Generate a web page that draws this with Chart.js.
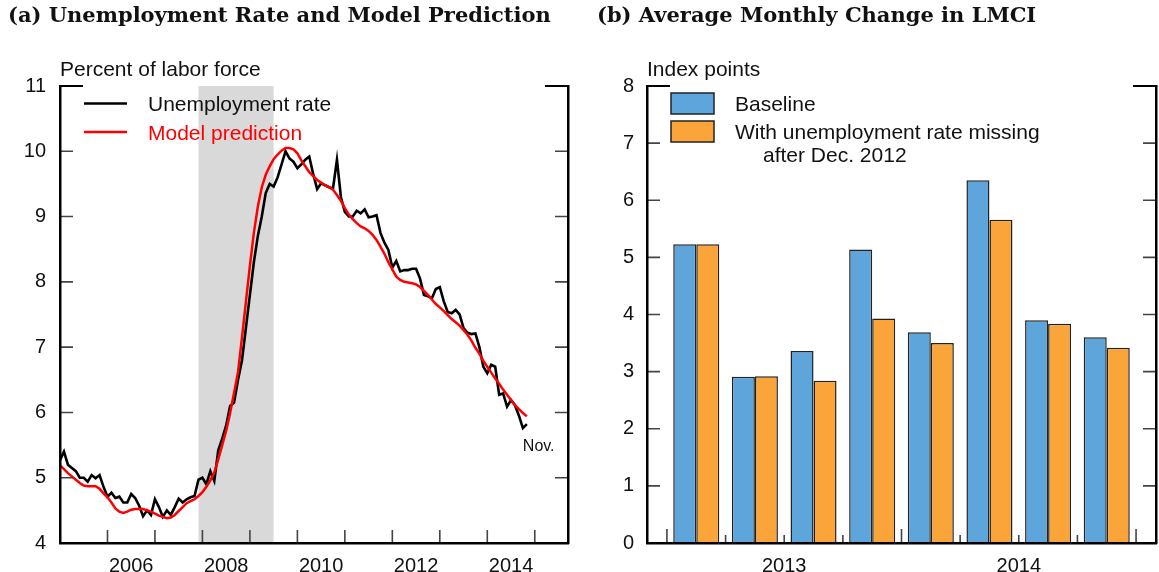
<!DOCTYPE html>
<html><head><meta charset="utf-8">
<script src="https://cdn.jsdelivr.net/npm/chart.js@4/dist/chart.umd.min.js"></script>
<style>
html,body{margin:0;padding:0;background:#fff;width:1159px;height:572px;overflow:hidden}
.title{position:absolute;top:1px;font-family:"DejaVu Serif",serif;font-weight:bold;font-size:21px;color:#111;white-space:nowrap;line-height:28px}
canvas{position:absolute;top:0}
</style></head><body>
<canvas id="c1" width="580" height="572" style="left:0;width:580px;height:572px"></canvas>
<canvas id="c2" width="579" height="572" style="left:580px;width:579px;height:572px"></canvas>
<div class="title" style="left:8px">(a) Unemployment Rate and Model Prediction</div>
<div class="title" style="left:597px">(b) Average Monthly Change in LMCI</div>
<script>
// ---------- Panel (a) data: monthly, Jan 2005 - Nov 2014 ----------
const startYear = 2005;
const unemploymentRate = [
  5.27,5.40,5.20,5.15,5.10,5.00,5.00,4.94,5.04,4.99,5.04,4.86,
  4.71,4.77,4.69,4.71,4.62,4.62,4.75,4.69,4.57,4.41,4.50,4.43,
  4.67,4.55,4.40,4.50,4.43,4.55,4.68,4.62,4.67,4.70,4.72,4.97,
  5.00,4.90,5.10,4.95,5.42,5.60,5.80,6.10,6.15,6.50,6.80,7.30,
  7.80,8.30,8.70,9.00,9.36,9.50,9.46,9.60,9.80,10.00,9.89,9.84,
  9.74,9.80,9.87,9.92,9.65,9.42,9.51,9.48,9.45,9.43,9.87,9.30,
  9.07,9.00,9.00,9.09,9.05,9.11,8.99,9.00,9.02,8.75,8.60,8.49,
  8.22,8.32,8.16,8.18,8.18,8.20,8.20,8.05,7.80,7.78,7.75,7.89,
  7.92,7.70,7.54,7.52,7.57,7.50,7.29,7.22,7.20,7.21,7.00,6.70,
  6.60,6.73,6.70,6.27,6.29,6.09,6.19,6.11,5.95,5.76,5.82
];
const modelPrediction = [
  5.19,5.13,5.07,5.02,4.97,4.92,4.88,4.87,4.87,4.87,4.83,4.76,
  4.70,4.62,4.53,4.48,4.46,4.48,4.51,4.52,4.52,4.52,4.50,4.48,
  4.45,4.42,4.40,4.38,4.39,4.43,4.49,4.55,4.61,4.64,4.67,4.72,
  4.78,4.86,4.96,5.08,5.28,5.50,5.72,5.99,6.30,6.62,7.15,7.70,
  8.25,8.75,9.15,9.45,9.64,9.77,9.88,9.95,10.01,10.05,10.05,10.03,
  9.97,9.86,9.77,9.68,9.62,9.56,9.52,9.48,9.45,9.41,9.33,9.24,
  9.13,9.03,8.96,8.90,8.85,8.82,8.78,8.72,8.64,8.54,8.43,8.30,
  8.19,8.08,8.03,8.00,7.99,7.98,7.96,7.92,7.86,7.80,7.73,7.66,
  7.61,7.55,7.49,7.43,7.38,7.33,7.26,7.19,7.10,6.99,6.90,6.79,
  6.70,6.61,6.52,6.44,6.35,6.27,6.19,6.11,6.05,5.99,5.94
];
const recession = [2007 + 11/12, 2009.5];   // Dec 2007 - Jun 2009
const yearTicks = [2006,2007,2008,2009,2010,2011,2012,2013,2014,2015];
const yearLabels = ['2006','2008','2010','2012','2014'];
const yTicksA = [5,6,7,8,9,10,11];
const lastMonthLabel = 'Nov.';

// ---------- Panel (b) data ----------
const quarters = ['2013 Q1','2013 Q2','2013 Q3','2013 Q4','2014 Q1','2014 Q2','2014 Q3','2014 Q4'];
const baseline = [5.23, 2.91, 3.36, 5.14, 3.69, 6.35, 3.90, 3.60];
const unempMissing = [5.23, 2.92, 2.84, 3.93, 3.50, 5.66, 3.84, 3.42];
const barYears = ['2013','2014'];
const yTicksB = [1,2,3,4,5,6,7,8];

const FONT = '"Liberation Sans", Arial, Helvetica, sans-serif';

const monthX = i => startYear + i / 12;

const inwardTicks = {
  id: 'inwardTicks',
  afterDatasetsDraw(chart, args, o) {
    const {ctx, chartArea: a, scales} = chart;
    const ys = scales.y, xs = scales.x;
    ctx.save();
    ctx.lineCap = 'butt';
    o.yValues.forEach(v => {
      const p = ys.getPixelForValue(v);
      const top = v === ys.max;
      const L = top ? o.topLen : o.len;
      ctx.strokeStyle = top ? '#000' : o.color;
      ctx.lineWidth = top ? 2.2 : o.width;
      ctx.beginPath();
      ctx.moveTo(a.left, p); ctx.lineTo(a.left + L, p);
      ctx.moveTo(a.right, p); ctx.lineTo(a.right - L, p);
      ctx.stroke();
    });
    ctx.strokeStyle = o.color; ctx.lineWidth = o.width;
    ctx.beginPath();
    o.xValues.forEach((v, i) => {
      const p = xs.getPixelForValue(v);
      const L = o.xLens ? o.xLens[i] : o.len;
      ctx.moveTo(p, a.bottom); ctx.lineTo(p, a.bottom - L);
    });
    ctx.stroke();
    ctx.restore();
  }
};

const shading = {
  id: 'shading',
  beforeDatasetsDraw(chart, args, o) {
    if (!o.range) return;
    const {ctx, chartArea: a, scales: {x}} = chart;
    const x0 = x.getPixelForValue(o.range[0]), x1 = x.getPixelForValue(o.range[1]);
    ctx.save();
    ctx.fillStyle = o.color;
    ctx.fillRect(x0, a.top, x1 - x0, a.bottom - a.top);
    ctx.restore();
  }
};

const extras = {
  id: 'extras',
  afterDraw(chart, args, o) {
    const {ctx, chartArea: a} = chart;
    ctx.save();
    ctx.font = '21px ' + FONT;
    ctx.textBaseline = 'alphabetic';
    ctx.textAlign = 'left';
    ctx.fillStyle = '#111';
    ctx.fillText(o.unit, a.left, 76);
    const ds = chart.data.datasets;
    if (o.kind === 'line') {
      const rows = [103.5, 132];
      o.order.forEach((di, k) => {
        const d = ds[di], y = rows[k];
        ctx.strokeStyle = d.borderColor; ctx.lineWidth = 2.5;
        ctx.beginPath(); ctx.moveTo(84, y); ctx.lineTo(127, y); ctx.stroke();
        ctx.fillStyle = d.legendText || '#111';
        ctx.fillText(d.label, 148, y + 7.5);
      });
      // last-month label
      const meta = chart.getDatasetMeta(o.lastDs);
      const pt = meta.data[meta.data.length - 1];
      ctx.font = '16px ' + FONT;
      ctx.fillStyle = '#111';
      ctx.fillText(o.lastLabel, pt.x - 4, pt.y + 27);
    } else {
      const rows = [93, 121];
      ds.forEach((d, k) => {
        const y = rows[k];
        ctx.fillStyle = d.backgroundColor;
        ctx.fillRect(91, y, 43, 21);
        ctx.strokeStyle = '#222'; ctx.lineWidth = 1.5;
        ctx.strokeRect(91, y, 43, 21);
        ctx.fillStyle = '#111';
        const lines = [].concat(d.legendLines || d.label);
        lines.forEach((t, j) => ctx.fillText(t, 155 + (j ? 28 : 0), y + 18 + j * 22.5));
      });
    }
    ctx.restore();
  }
};

Chart.register(inwardTicks, shading, extras);

// ---------- Chart (a) ----------
new Chart(document.getElementById('c1'), {
  type: 'line',
  data: {
    datasets: [
      { label: 'Model prediction', data: modelPrediction.map((v, i) => ({x: monthX(i), y: v})),
        borderColor: '#ff0000', legendText: '#ff0000', borderWidth: 2.5, pointRadius: 0, tension: 0, order: 0,
        xAxisID: 'x', yAxisID: 'y' },
      { label: 'Unemployment rate', data: unemploymentRate.map((v, i) => ({x: monthX(i), y: v})),
        borderColor: '#000000', legendText: '#111', borderWidth: 2.6, pointRadius: 0, tension: 0, order: 1,
        xAxisID: 'x', yAxisID: 'y' }
    ]
  },
  options: {
    responsive: false, animation: false, devicePixelRatio: 1,
    layout: { padding: { top: 86, right: 12, bottom: 0, left: 0 } },
    plugins: {
      legend: { display: false }, tooltip: { enabled: false },
      shading: { range: recession, color: '#d9d9d9' },
      inwardTicks: { yValues: yTicksA, xValues: yearTicks, len: 13, topLen: 23, color: '#444', width: 1.6 },
      extras: { kind: 'line', unit: 'Percent of labor force', order: [1, 0], lastDs: 1, lastLabel: lastMonthLabel }
    },
    scales: {
      x: { type: 'linear', axis: 'x', position: 'bottom', min: 2005, max: 2015.7, offset: false,
           grid: { display: false }, ticks: { display: false },
           border: { display: true, color: '#000', width: 2.5, z: 2 },
           afterFit: s => { s.height = 0; } },
      x2: { type: 'linear', axis: 'x', position: 'bottom', min: 2005, max: 2015.7, offset: false,
            grid: { display: false }, border: { display: false },
            afterBuildTicks: s => { s.ticks = yearLabels.map(l => ({ value: +l + 0.5 })); },
            ticks: { autoSkip: false, maxRotation: 0, padding: 3, color: '#111', font: { size: 20, family: FONT },
                     callback: (v, i) => yearLabels[i] },
            afterFit: s => { s.height = 29; } },
      y: { type: 'linear', position: 'left', min: 4, max: 11,
           grid: { display: false, drawTicks: false },
           border: { display: true, color: '#000', width: 2.5, z: 2 },
           ticks: { stepSize: 1, padding: 14, color: '#111', font: { size: 20, family: FONT } },
           afterFit: s => { s.width = 60; } },
      y2: { type: 'linear', axis: 'y', position: 'right', min: 4, max: 11,
            grid: { display: false }, ticks: { display: false },
            border: { display: true, color: '#000', width: 2.5, z: 2 },
            afterFit: s => { s.width = 0; } }
    }
  }
});

// ---------- Chart (b) ----------
const boundaries = quarters.map((q, i) => i - 0.5).concat([quarters.length - 0.5]);
const boundaryLens = boundaries.map(b => ((b + 0.5) % 4 === 0 ? 14 : 8));
new Chart(document.getElementById('c2'), {
  type: 'bar',
  data: {
    datasets: [
      { label: 'Baseline', data: baseline.map((v, i) => ({x: i, y: v})),
        backgroundColor: '#5DA5DA', borderColor: '#222', borderWidth: 1.5, borderSkipped: 'bottom',
        categoryPercentage: 0.785, barPercentage: 1, xAxisID: 'x', yAxisID: 'y' },
      { label: 'With unemployment rate missing after Dec. 2012',
        legendLines: ['With unemployment rate missing', 'after Dec. 2012'],
        data: unempMissing.map((v, i) => ({x: i, y: v})),
        backgroundColor: '#FAA43A', borderColor: '#222', borderWidth: 1.5, borderSkipped: 'bottom',
        categoryPercentage: 0.785, barPercentage: 1, xAxisID: 'x', yAxisID: 'y' }
    ]
  },
  options: {
    responsive: false, animation: false, devicePixelRatio: 1,
    layout: { padding: { top: 86, right: 3, bottom: 0, left: 0 } },
    plugins: {
      legend: { display: false }, tooltip: { enabled: false },
      inwardTicks: { yValues: yTicksB, xValues: boundaries, xLens: boundaryLens, len: 13, topLen: 23, color: '#444', width: 1.6 },
      extras: { kind: 'box', unit: 'Index points' }
    },
    scales: {
      x: { type: 'linear', axis: 'x', position: 'bottom', min: -0.84, max: quarters.length - 1 + 0.84, offset: false,
           grid: { display: false, offset: false }, ticks: { display: false },
           afterBuildTicks: s => { s.ticks = boundaries.map(v => ({ value: v })); },
           border: { display: true, color: '#000', width: 2.5, z: 2 },
           afterFit: s => { s.height = 0; } },
      x2: { type: 'linear', axis: 'x', position: 'bottom', min: -0.84, max: quarters.length - 1 + 0.84, offset: false,
            grid: { display: false }, border: { display: false },
            afterBuildTicks: s => { s.ticks = barYears.map((y, k) => ({ value: k * 4 + 1.5 })); },
            ticks: { autoSkip: false, maxRotation: 0, padding: 3, color: '#111', font: { size: 20, family: FONT },
                     callback: (v, i) => barYears[i] },
            afterFit: s => { s.height = 29; } },
      y: { type: 'linear', position: 'left', min: 0, max: 8,
           grid: { display: false, drawTicks: false },
           border: { display: true, color: '#000', width: 2.5, z: 2 },
           ticks: { stepSize: 1, padding: 13, color: '#111', font: { size: 20, family: FONT } },
           afterFit: s => { s.width = 67; } },
      y2: { type: 'linear', axis: 'y', position: 'right', min: 0, max: 8,
            grid: { display: false }, ticks: { display: false },
            border: { display: true, color: '#000', width: 2.5, z: 2 },
            afterFit: s => { s.width = 0; } }
    }
  }
});
</script>
</body></html>
